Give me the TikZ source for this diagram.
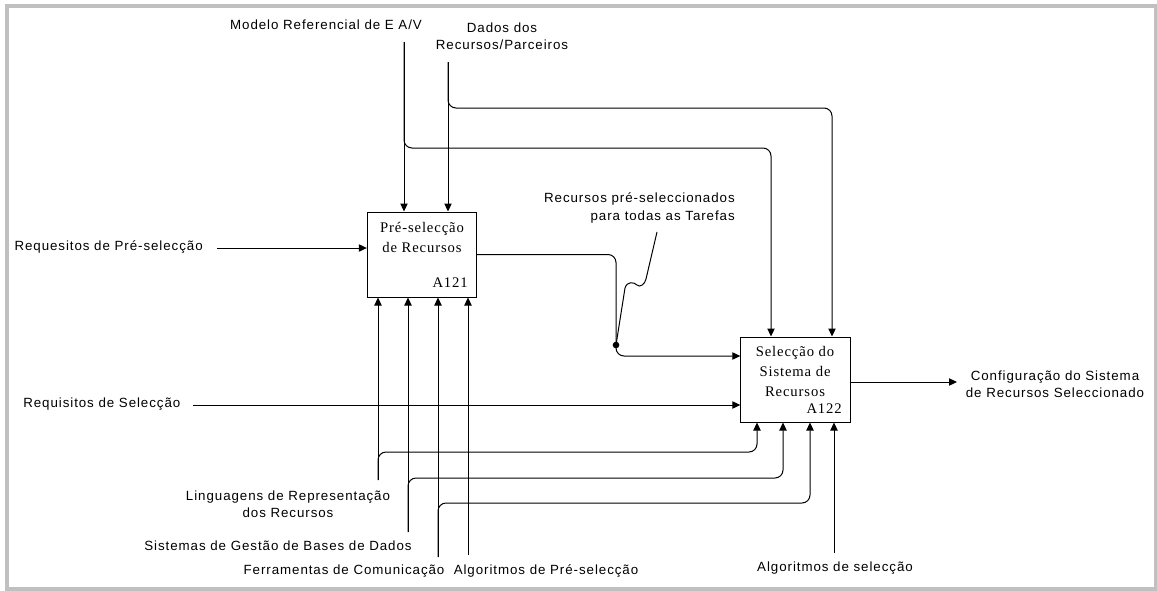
\documentclass[tikz,border=0pt]{standalone}
\usepackage{fontspec}
\usepackage{tikz}
\usetikzlibrary{arrows.meta, positioning, calc}
\newfontfamily\lblfont[LetterSpace=7]{Liberation Sans}
\newfontfamily\actfont[LetterSpace=6]{Liberation Serif}
\definecolor{frame}{HTML}{C0C0C0}

\begin{document}
\begin{tikzpicture}[
  x=0.75pt, y=-0.75pt,
  act/.style={draw, line width=0.75pt, minimum width=82pt, minimum height=63.75pt, inner sep=0pt},
  actname/.style={font=\actfont\fontsize{11}{14.8}\selectfont, align=center, inner sep=0pt, anchor=base},
  actnum/.style={font=\actfont\fontsize{11}{13}\selectfont, inner sep=0pt, anchor=base east},
  lbl/.style={font=\lblfont\fontsize{10}{13}\selectfont, align=center, inner sep=0pt},
  arrow/.style={-{Triangle[length=6pt, width=5.5pt]}, line width=0.75pt},
  branch/.style={arrow, rounded corners=6pt}
]
  \useasboundingbox (0,0) rectangle (1157,590);
  \draw[frame, line width=3pt] (7,6) rectangle (1155.5,588.5);

  % activities
  \node[act] (b1) at (422,254.5) {};
  \node[act] (b2) at (795.5,379.5) {};
  \node[actname] (b1name) at (422,252) {Pré-selecção\\de Recursos};
  \node[actnum] (b1num) at (468,287) {A121};
  \node[actname] (b2name) at (795,396) {Selecção do\\Sistema de\\Recursos};
  \node[actnum] (b2num) at (842,413) {A122};

  % labels
  \node[lbl] (modelo) at (326,25) {Modelo Referencial de E A/V};
  \node[lbl] (dados) at (502,36) {Dados dos\\Recursos/Parceiros};
  \node[lbl, anchor=east] (reqpre) at (203,247) {Requesitos de Pré-selecção};
  \node[lbl, anchor=west] (reqsel) at (23,404) {Requisitos de Selecção};
  \node[lbl, align=right, anchor=east] (rsel) at (735,208) {Recursos pré-seleccionados\\para todas as Tarefas};
  \node[lbl] (config) at (1055,384.5) {Configuração do Sistema\\de Recursos Seleccionado};
  \node[lbl] (lingl) at (288,504) {Linguagens de Representação\\dos Recursos};
  \node[lbl] (sistl) at (278,546) {Sistemas de Gestão de Bases de Dados};
  \node[lbl] (ferrl) at (344,571) {Ferramentas de Comunicação};
  \node[lbl] (alg1l) at (546,571) {Algoritmos de Pré-selecção};
  \node[lbl] (alg2l) at (835,568) {Algoritmos de selecção};

  % free ends and bends
  \coordinate (modtop) at (404,42);
  \coordinate (modturn) at (771,148);
  \coordinate (dattop) at (448,62);
  \coordinate (datturn) at (832,108);
  \coordinate (reqprestart) at (217,248);
  \coordinate (reqselstart) at (193,405);
  \coordinate (split) at (616,345);
  \coordinate (preturn) at (616,356);
  \coordinate (note) at (657,232);
  \coordinate (cfgend) at (957,382);
  \coordinate (ling) at (378,480);
  \coordinate (lingturn) at (757,452);
  \coordinate (sist) at (408,532);
  \coordinate (sistturn) at (783,478);
  \coordinate (ferr) at (438,557);
  \coordinate (ferrturn) at (810,503);
  \coordinate (alg1) at (468,555);
  \coordinate (alg2) at (834,553);

  % controls
  \draw[arrow] (modtop) -- (modtop |- b1.north);
  \draw[branch] (modtop) |- (modturn) -- (modturn |- b2.north);
  \draw[arrow] (dattop) -- (dattop |- b1.north);
  \draw[branch] (dattop) |- (datturn) -- (datturn |- b2.north);

  % inputs and outputs
  \draw[arrow] (reqprestart) -- (reqprestart -| b1.west);
  \draw[arrow] (reqselstart) -- (reqselstart -| b2.west);
  \draw[branch] (b1.east) -| (preturn) -- (preturn -| b2.west);
  \fill (split) circle[radius=2.5pt];
  \draw[line width=0.75pt] (split) -- (625,288) .. controls (627,281) and (634,282) .. (637,285)
    .. controls (640,288) and (645,284) .. (646,279) -- (note);
  \draw[arrow] (cfgend -| b2.east) -- (cfgend);

  % mechanisms
  \draw[arrow] (ling) -- (ling |- b1.south);
  \draw[branch] (ling) |- (lingturn) -- (lingturn |- b2.south);
  \draw[arrow] (sist) -- (sist |- b1.south);
  \draw[branch] (sist) |- (sistturn) -- (sistturn |- b2.south);
  \draw[arrow] (ferr) -- (ferr |- b1.south);
  \draw[branch] (ferr) |- (ferrturn) -- (ferrturn |- b2.south);
  \draw[arrow] (alg1) -- (alg1 |- b1.south);
  \draw[arrow] (alg2) -- (alg2 |- b2.south);
\end{tikzpicture}
\end{document}
